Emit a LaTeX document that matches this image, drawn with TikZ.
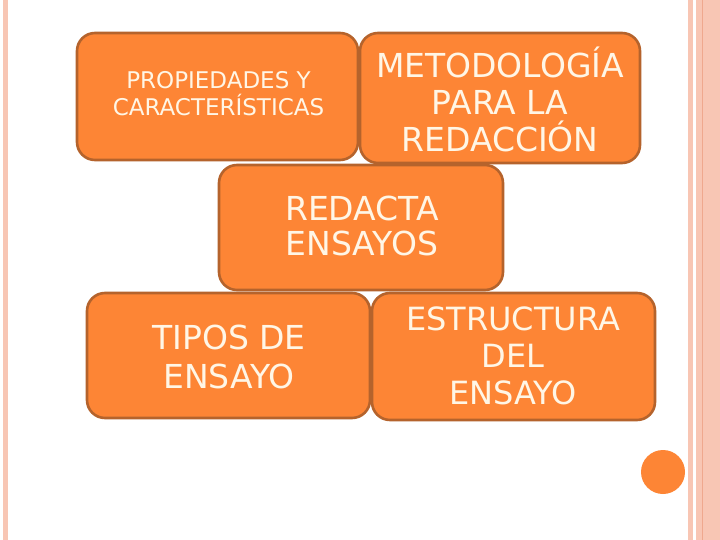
\documentclass[tikz,border=0pt]{standalone}
\usepackage{fontspec}
\setmainfont{DejaVu Sans}
\definecolor{boxfill}{HTML}{FD8535}
\definecolor{boxedge}{HTML}{B5632C}
\definecolor{txt}{HTML}{FFF6E6}
\definecolor{stripe}{HTML}{F8C6B4}
\definecolor{stripedark}{HTML}{EFA88E}
\begin{document}
\begin{tikzpicture}[x=1pt,y=-1pt,
  card/.style={draw=boxedge, line width=2.6pt, fill=boxfill, rounded corners=18pt},
  cardtext/.style={text=txt, align=center, inner sep=0pt}]
\useasboundingbox (0,0) rectangle (720,540);
\fill[white] (0,0) rectangle (720,540);
% side stripes
\fill[stripe] (3,0) rectangle (8,540);
\fill[stripe] (688,0) rectangle (693,540);
\fill[stripe] (696,0) rectangle (720,540);
\draw[stripedark, line width=0.8pt] (702,0) -- (702,540);
% boxes
\draw[card] (77,33) rectangle (358,160);
\node[cardtext, font=\fontsize{23}{27}\selectfont] (prop) at (218.5,94) {PROPIEDADES Y\\CARACTERÍSTICAS};
\draw[card] (360,33) rectangle (640,163);
\node[cardtext, font=\fontsize{33}{37}\selectfont] (met) at (500,99) {METODOLOGÍA\\PARA LA\\REDACCIÓN};
\draw[card] (219,165) rectangle (503,290);
\node[cardtext, font=\fontsize{33}{35}\selectfont] (red) at (362,226) {REDACTA\\ENSAYOS};
\draw[card] (87,293) rectangle (370,418);
\node[cardtext, font=\fontsize{33}{39}\selectfont] (tip) at (229,357) {TIPOS DE\\ENSAYO};
\draw[card] (372,293) rectangle (655,420);
\node[cardtext, font=\fontsize{32}{37}\selectfont] (est) at (513,356) {ESTRUCTURA\\DEL\\ENSAYO};
% dot
\fill[boxfill] (663,472) circle (22);
\end{tikzpicture}
\end{document}
